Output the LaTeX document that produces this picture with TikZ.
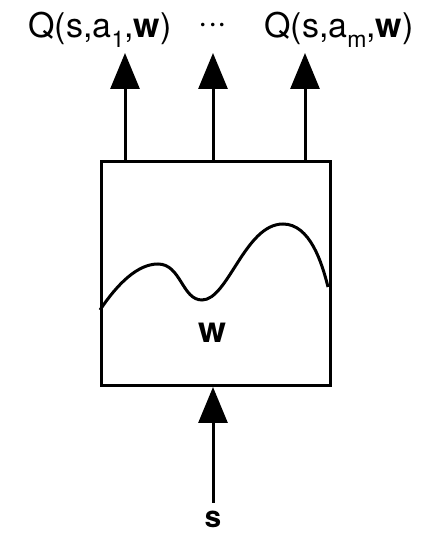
\documentclass[tikz,border=0pt]{standalone}
\usepackage{fontspec}
\setmainfont{TeX Gyre Heros}
\usetikzlibrary{arrows.meta}
\newcommand{\mysub}[1]{\raisebox{-0.3em}{\fontsize{23}{23}\selectfont #1}}
\begin{document}
\begin{tikzpicture}[x=1pt,y=1pt,
  line/.style={line width=3pt},
  arr/.style={line width=3pt,-{Triangle[width=29pt,length=36pt]}},
  lbl/.style={inner sep=0pt,font=\fontsize{34}{40}\selectfont}]
\useasboundingbox (0,0) rectangle (424,535);
\node[line,draw,minimum width=229pt,minimum height=224pt,inner sep=0pt,anchor=south west] (box) at (100,148) {};
\node[lbl] (q1) at (100,505) {Q(s,a\mysub{1},\textbf{w})};
\node[lbl] (dots) at (213,507) {\textperiodcentered\textperiodcentered\textperiodcentered};
\node[lbl] (qm) at (339,505) {Q(s,a\mysub{m},\textbf{w})};
\node[lbl,font=\fontsize{36}{40}\selectfont] (w) at (213,202) {\textbf{w}};
\node[lbl,font=\fontsize{30}{36}\selectfont] (s) at (213,16) {\textbf{s}};
\coordinate (t1) at (125,482);
\coordinate (t2) at (213,482);
\coordinate (t3) at (305,482);
\coordinate (b0) at (213,32);
\draw[arr] (box.north -| t1) -- (t1);
\draw[arr] (box.north -| t2) -- (t2);
\draw[arr] (box.north -| t3) -- (t3);
\draw[arr] (b0) -- (b0 |- box.south);
\draw[line] (100,225) .. controls (118,252) and (138,271) .. (158,271)
  .. controls (181,271) and (182,235) .. (202,235)
  .. controls (228,235) and (245,311) .. (283,311)
  .. controls (310,311) and (322,272) .. (328,248);
\end{tikzpicture}
\end{document}
